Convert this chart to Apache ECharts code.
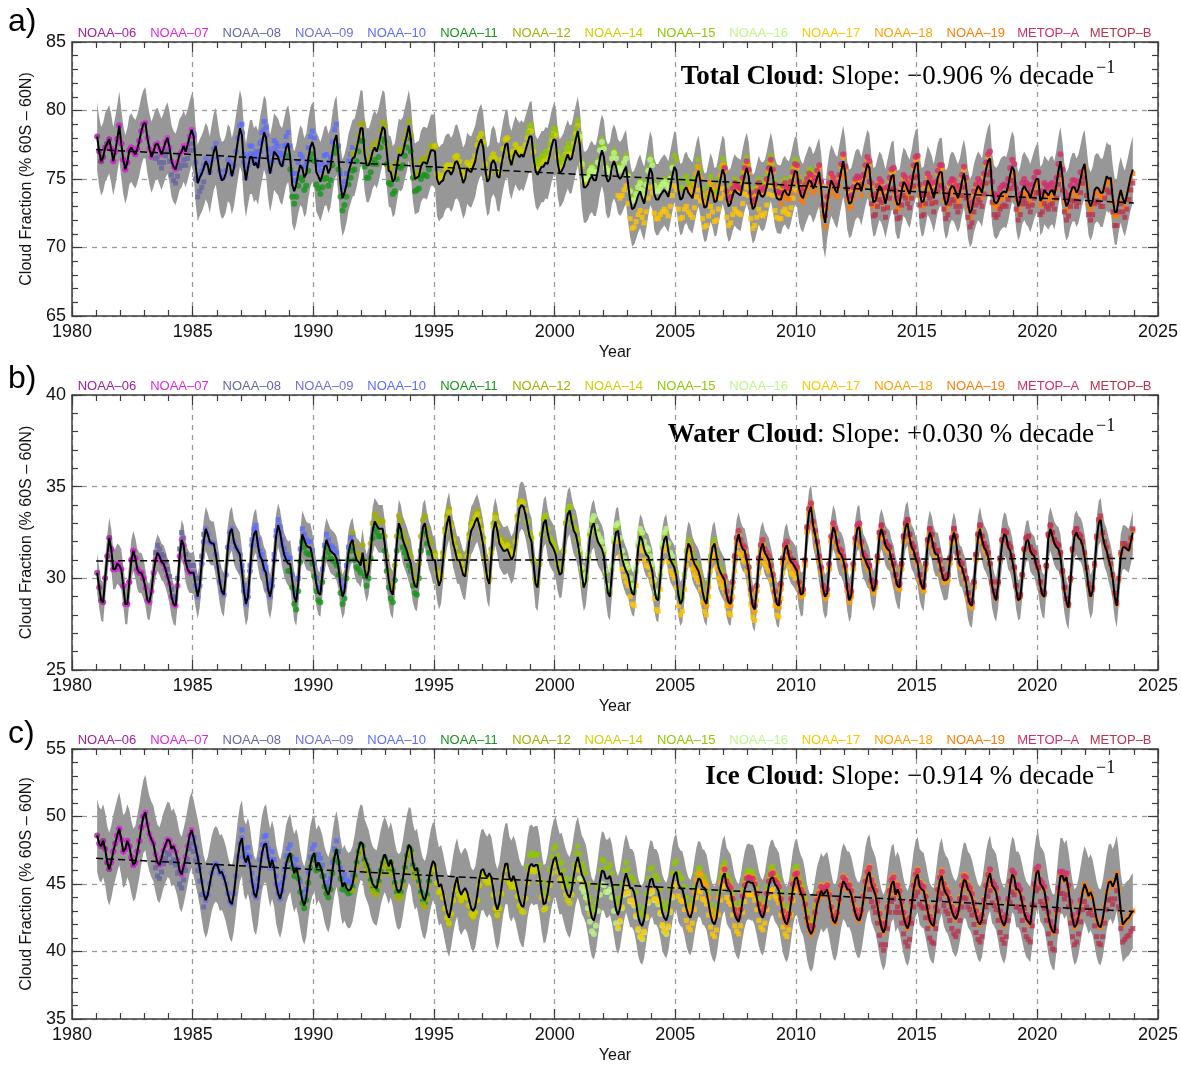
<!DOCTYPE html>
<html>
<head>
<meta charset="utf-8">
<title>Cloud Fraction 60S–60N</title>
<script src="https://cdn.jsdelivr.net/npm/echarts@6/dist/echarts.min.js"></script>
<style>
  html, body { margin: 0; padding: 0; background: #ffffff; }
  #chart { width: 1181px; height: 1065px; }
</style>
</head>
<body>
<div id="chart"></div>
<script>
// ---------------------------------------------------------------
// Data: monthly mean cloud fraction (% of 60S–60N), Jan 1981 – Dec 2023,
// one row per year (Jan … Dec).
// ---------------------------------------------------------------
const START_YEAR = 1981;

const totalCloud = [
  78.1, 77.0, 76.3, 76.6, 77.3, 77.6, 77.9, 77.2, 76.3, 77.0, 77.9, 78.9,
  77.6, 76.4, 75.7, 76.2, 77.1, 77.3, 77.0, 76.8, 77.2, 77.8, 78.5, 79.0,
  79.1, 78.0, 77.2, 76.6, 77.0, 77.5, 77.6, 77.2, 76.8, 77.2, 77.7, 78.0,
  77.3, 76.3, 75.9, 75.7, 76.2, 76.8, 77.0, 77.4, 77.0, 77.5, 78.1, 78.6,
  78.1, 76.0, 74.7, 75.1, 75.4, 75.8, 76.3, 76.0, 75.3, 76.2, 77.0, 77.4,
  76.4, 75.4, 74.9, 75.0, 75.4, 76.2, 76.0, 75.2, 75.8, 76.8, 77.8, 78.7,
  78.2, 76.0, 74.9, 75.8, 76.6, 76.6, 76.0, 76.2, 75.8, 76.8, 77.6, 78.4,
  78.0, 76.4, 75.4, 76.1, 77.0, 76.8, 76.6, 76.1, 75.9, 76.6, 77.3, 77.6,
  76.6, 74.6, 74.1, 74.6, 75.4, 76.0, 75.8, 75.1, 75.4, 76.5, 77.3, 77.7,
  77.2, 75.5, 75.2, 74.8, 75.3, 75.9, 76.0, 75.4, 75.8, 76.9, 77.8, 78.2,
  76.6, 74.6, 73.6, 74.0, 74.6, 75.5, 76.0, 76.5, 76.6, 77.2, 77.9, 78.7,
  78.7, 76.8, 76.0, 76.0, 76.4, 77.0, 77.3, 77.0, 77.5, 78.2, 78.8, 78.6,
  77.0, 75.6, 75.5, 74.8, 75.0, 75.9, 76.8, 76.7, 76.9, 77.6, 78.2, 78.9,
  77.9, 76.0, 75.0, 75.1, 75.2, 75.9, 76.2, 76.2, 76.1, 76.6, 77.1, 77.1,
  77.0, 75.0, 74.6, 74.8, 74.9, 75.4, 75.6, 75.6, 75.3, 75.6, 76.2, 76.3,
  75.9, 75.3, 74.7, 75.0, 75.8, 75.6, 75.5, 75.9, 76.3, 77.1, 77.6, 77.9,
  77.3, 75.7, 74.8, 75.0, 76.1, 76.4, 76.1, 75.2, 75.1, 76.0, 76.8, 77.5,
  77.6, 76.5, 76.0, 76.6, 77.1, 76.8, 76.6, 76.8, 76.6, 77.1, 77.6, 78.1,
  78.1, 76.6, 75.6, 75.3, 75.6, 75.9, 75.9, 76.2, 76.1, 76.7, 77.4, 77.9,
  77.8, 76.2, 75.4, 75.6, 75.9, 76.4, 76.8, 76.4, 76.5, 77.2, 77.9, 78.5,
  77.5, 75.5, 74.4, 74.4, 74.6, 75.0, 75.2, 74.9, 74.9, 75.6, 76.5, 77.1,
  76.6, 75.2, 74.8, 75.0, 75.9, 76.3, 75.9, 75.2, 75.0, 75.2, 75.6, 75.9,
  74.6, 73.5, 72.8, 72.9, 73.3, 73.8, 74.1, 73.6, 73.2, 74.0, 75.0, 75.8,
  75.4, 73.9, 73.5, 73.5, 73.8, 74.0, 74.2, 74.0, 73.7, 74.4, 75.2, 75.9,
  75.6, 74.2, 73.5, 73.6, 74.2, 74.4, 74.0, 73.8, 73.6, 74.3, 75.1, 75.6,
  74.8, 73.5, 72.9, 73.0, 73.7, 74.4, 74.0, 73.3, 73.4, 74.2, 75.0, 75.7,
  75.3, 73.6, 73.0, 73.2, 73.8, 74.2, 74.0, 73.9, 73.8, 74.6, 75.3, 75.8,
  75.2, 73.5, 72.8, 73.0, 73.6, 74.2, 73.8, 73.7, 73.9, 74.5, 75.3, 75.9,
  75.2, 74.1, 73.6, 73.5, 73.5, 74.0, 74.2, 73.9, 73.8, 74.3, 75.0, 75.6,
  75.5, 74.3, 73.8, 73.6, 74.1, 74.5, 74.9, 74.8, 74.3, 74.6, 75.1, 75.5,
  74.3, 72.6, 71.8, 73.2, 74.2, 74.9, 74.6, 74.2, 74.0, 74.8, 75.6, 76.3,
  75.4, 73.8, 73.2, 73.3, 73.9, 74.5, 74.7, 74.6, 74.1, 74.8, 75.5, 76.1,
  75.8, 74.2, 73.3, 73.4, 74.0, 74.5, 74.3, 73.8, 73.2, 73.9, 74.6, 75.2,
  75.3, 73.6, 73.1, 73.2, 74.1, 74.8, 74.6, 74.2, 73.9, 74.6, 75.5, 76.1,
  76.2, 74.1, 73.3, 73.4, 74.2, 74.9, 74.6, 74.2, 73.6, 74.3, 75.1, 75.5,
  75.5, 73.8, 73.1, 73.4, 74.2, 74.5, 74.4, 74.0, 73.6, 74.0, 74.8, 75.4,
  74.6, 73.2, 72.5, 72.8, 73.6, 74.1, 74.5, 74.3, 74.0, 74.9, 75.7, 76.3,
  76.5, 74.3, 73.4, 73.2, 73.4, 73.8, 74.0, 74.1, 74.0, 74.5, 75.3, 75.9,
  75.6, 73.8, 73.0, 73.4, 74.2, 74.5, 74.2, 74.0, 73.6, 74.1, 74.6, 75.0,
  75.0, 73.4, 73.6, 74.2, 74.0, 73.8, 74.1, 74.2, 73.8, 74.6, 75.6, 76.3,
  75.2, 73.6, 73.0, 73.3, 74.0, 74.4, 74.4, 74.0, 74.3, 75.0, 75.7, 76.1,
  74.8, 73.4, 73.0, 73.4, 74.2, 74.4, 74.3, 74.0, 74.0, 74.6, 75.2, 75.0,
  75.1, 73.6, 72.6, 72.6, 73.6, 74.2, 73.6, 73.2, 73.8, 74.5, 75.2, 75.7
];

const waterCloud = [
  30.3, 29.5, 28.8, 28.7, 30.0, 31.2, 32.2, 31.6, 30.5, 30.5, 30.8, 30.7,
  30.5, 29.6, 28.6, 28.6, 29.8, 31.0, 31.5, 31.1, 30.5, 30.3, 30.3, 30.0,
  29.5, 28.8, 28.7, 29.3, 30.3, 31.0, 31.4, 31.2, 30.9, 30.8, 30.5, 30.1,
  29.7, 29.0, 28.6, 28.5, 29.6, 31.2, 32.1, 31.8, 30.9, 30.5, 30.3, 30.3,
  30.3, 29.6, 29.0, 29.6, 30.8, 32.0, 32.7, 32.4, 32.0, 31.9, 31.9, 31.3,
  30.6, 29.8, 29.3, 29.1, 30.2, 31.7, 32.5, 32.7, 32.0, 31.7, 31.5, 31.3,
  30.4, 29.3, 28.6, 29.0, 30.4, 31.8, 32.4, 32.6, 31.8, 31.2, 31.0, 30.5,
  30.3, 29.4, 29.0, 29.6, 31.0, 32.3, 32.9, 32.5, 31.8, 31.3, 31.0, 30.8,
  30.8, 29.9, 29.0, 28.7, 29.7, 31.3, 32.4, 32.1, 31.8, 31.7, 31.7, 31.2,
  30.5, 29.7, 29.2, 29.1, 30.2, 31.5, 32.1, 31.8, 31.5, 31.4, 31.3, 31.1,
  30.6, 29.6, 29.0, 29.3, 30.4, 31.4, 31.9, 32.1, 31.4, 31.0, 30.9, 30.7,
  31.4, 30.5, 30.0, 30.4, 31.5, 32.6, 33.1, 32.9, 32.7, 32.7, 32.7, 31.9,
  30.8, 29.9, 29.3, 29.1, 30.3, 31.9, 33.0, 32.7, 32.1, 31.8, 31.5, 31.1,
  30.8, 30.0, 29.6, 29.5, 30.4, 31.9, 32.8, 33.0, 32.3, 31.8, 31.5, 31.0,
  31.0, 30.1, 29.6, 29.9, 31.0, 32.3, 33.0, 33.4, 32.6, 31.9, 31.5, 31.0,
  31.0, 30.6, 30.2, 30.1, 31.0, 32.0, 32.6, 32.8, 33.1, 33.3, 32.9, 32.4,
  31.8, 30.8, 30.0, 29.7, 31.2, 32.6, 33.1, 32.6, 31.9, 31.7, 31.5, 31.5,
  31.6, 31.3, 31.0, 31.2, 31.8, 33.0, 33.8, 34.0, 33.9, 33.5, 32.9, 32.3,
  32.0, 30.8, 29.7, 29.5, 30.6, 32.2, 33.0, 33.2, 32.5, 32.0, 31.8, 31.6,
  31.3, 30.6, 30.2, 30.3, 31.3, 32.8, 33.5, 33.7, 33.1, 32.6, 32.4, 31.9,
  31.2, 30.2, 29.5, 29.8, 30.9, 32.2, 32.8, 33.0, 32.4, 32.0, 31.8, 31.6,
  31.2, 30.0, 29.2, 29.0, 30.3, 31.8, 32.5, 32.6, 31.8, 31.1, 30.7, 30.4,
  30.2, 29.6, 29.2, 29.1, 30.2, 31.6, 32.3, 32.1, 31.6, 31.3, 31.2, 30.8,
  30.4, 29.5, 28.9, 28.8, 30.0, 31.5, 32.1, 32.3, 31.5, 31.0, 30.8, 30.6,
  30.1, 29.1, 28.6, 28.8, 30.0, 31.3, 31.9, 31.7, 31.1, 30.8, 30.6, 30.4,
  30.0, 29.3, 28.8, 28.6, 29.6, 31.0, 31.7, 31.9, 31.2, 30.6, 30.3, 30.1,
  29.9, 29.1, 28.7, 28.6, 29.6, 31.0, 32.0, 32.4, 31.9, 31.6, 31.5, 31.0,
  30.4, 29.2, 28.5, 28.3, 29.4, 30.9, 31.6, 31.9, 31.4, 31.2, 31.0, 30.5,
  30.0, 29.1, 28.6, 28.5, 29.5, 30.9, 31.6, 31.8, 31.2, 30.9, 30.8, 30.6,
  30.4, 29.6, 29.1, 29.2, 30.8, 32.6, 33.6, 33.9, 32.9, 32.4, 31.8, 31.0,
  30.4, 29.4, 29.0, 29.2, 30.6, 32.1, 32.8, 32.5, 31.8, 31.4, 31.3, 31.0,
  30.5, 29.4, 28.8, 29.1, 30.6, 32.0, 32.7, 32.8, 31.8, 31.2, 31.0, 30.7,
  30.5, 29.7, 29.3, 29.6, 31.0, 32.3, 32.7, 32.3, 31.8, 31.6, 31.5, 31.0,
  30.6, 30.0, 29.6, 29.5, 30.6, 32.1, 32.8, 33.0, 32.2, 31.7, 31.5, 31.1,
  30.8, 30.0, 29.6, 29.4, 30.6, 31.9, 32.5, 32.2, 31.6, 31.3, 31.3, 30.8,
  30.3, 29.9, 29.9, 30.0, 30.9, 32.0, 32.5, 32.1, 31.2, 30.7, 30.6, 30.2,
  29.8, 29.0, 28.6, 28.5, 29.6, 31.1, 32.2, 32.7, 32.1, 31.7, 31.5, 31.2,
  30.6, 29.6, 29.1, 28.8, 29.6, 30.9, 31.9, 32.4, 32.3, 31.7, 31.5, 31.0,
  30.4, 29.4, 28.8, 28.9, 30.0, 31.4, 32.0, 32.1, 31.5, 31.3, 31.2, 30.7,
  30.4, 29.6, 29.1, 29.0, 30.5, 32.2, 32.7, 32.3, 31.9, 31.7, 31.6, 31.2,
  30.2, 29.3, 28.7, 28.4, 29.8, 31.4, 32.3, 32.5, 32.2, 32.1, 31.8, 31.2,
  30.4, 29.5, 29.0, 29.3, 30.6, 32.1, 33.0, 33.2, 32.3, 31.8, 31.5, 31.0,
  30.6, 30.0, 29.0, 28.5, 29.8, 31.2, 31.7, 31.7, 31.6, 31.5, 32.0, 32.5
];

const iceCloud = [
  48.6, 48.0, 47.8, 48.2, 47.6, 46.6, 46.1, 46.6, 47.4, 48.0, 48.6, 49.1,
  48.3, 47.4, 47.6, 48.2, 47.8, 47.0, 46.4, 46.6, 47.4, 48.2, 49.2, 50.0,
  50.3, 49.4, 48.7, 48.3, 48.0, 47.2, 46.6, 46.4, 46.9, 47.5, 47.9, 48.3,
  48.2, 47.6, 47.8, 47.4, 46.8, 46.0, 45.7, 46.3, 47.0, 47.8, 48.6, 49.0,
  48.4, 47.7, 47.0, 46.2, 45.2, 44.3, 43.8, 44.2, 45.0, 45.8, 46.3, 46.5,
  46.3, 45.8, 45.9, 45.5, 45.0, 44.3, 43.7, 43.5, 44.3, 45.6, 47.0, 48.0,
  48.4, 47.0, 46.6, 47.1, 46.4, 45.2, 44.3, 44.0, 44.8, 46.2, 47.3, 47.9,
  48.0, 47.0, 46.2, 46.8, 46.2, 45.0, 44.3, 43.9, 44.5, 45.5, 46.5, 47.0,
  47.3, 46.4, 45.8, 46.2, 45.6, 44.6, 43.8, 43.4, 44.0, 45.3, 46.4, 47.0,
  47.3, 46.2, 46.6, 46.3, 45.8, 45.0, 44.5, 44.2, 44.8, 46.0, 47.0, 47.6,
  46.8, 45.6, 44.8, 45.1, 44.7, 44.5, 44.6, 45.0, 45.8, 46.8, 47.6, 48.1,
  48.0, 47.0, 46.6, 46.2, 45.5, 45.0, 44.8, 44.7, 45.4, 46.2, 46.8, 47.2,
  46.8, 46.3, 46.8, 46.2, 45.3, 44.6, 44.4, 44.6, 45.4, 46.4, 47.3, 47.9,
  47.7, 46.6, 46.0, 46.2, 45.4, 44.6, 44.0, 43.8, 44.4, 45.4, 46.2, 46.7,
  46.5, 45.5, 44.8, 45.0, 44.4, 43.6, 42.9, 42.5, 43.2, 44.2, 45.0, 45.5,
  44.6, 44.2, 44.5, 44.7, 44.4, 43.8, 43.2, 43.0, 43.3, 44.2, 45.3, 46.0,
  46.1, 45.7, 45.5, 45.8, 45.5, 44.6, 43.6, 43.1, 43.6, 44.7, 45.8, 46.5,
  46.5, 45.5, 45.2, 45.6, 45.2, 44.5, 43.8, 43.4, 43.3, 44.3, 45.5, 46.3,
  46.5, 46.3, 46.4, 46.4, 45.6, 44.4, 43.5, 43.6, 44.3, 45.3, 46.2, 46.8,
  47.0, 46.3, 45.7, 45.8, 45.2, 44.6, 44.2, 44.0, 44.6, 45.6, 46.5, 47.0,
  46.4, 45.7, 45.4, 45.0, 44.2, 43.2, 42.5, 42.3, 42.9, 44.0, 45.2, 46.0,
  45.9, 45.4, 45.4, 45.6, 45.0, 44.0, 43.1, 42.7, 43.2, 44.2, 45.2, 45.8,
  45.3, 44.7, 44.7, 44.4, 43.6, 42.6, 42.1, 41.9, 42.4, 43.5, 44.6, 45.3,
  45.4, 44.8, 44.8, 44.5, 43.8, 42.9, 42.5, 42.3, 42.8, 43.9, 45.0, 45.7,
  45.9, 45.0, 44.7, 44.6, 44.0, 43.2, 42.7, 42.5, 43.0, 44.0, 44.9, 45.4,
  45.3, 44.8, 44.7, 44.4, 43.6, 42.7, 42.2, 42.0, 42.5, 43.6, 44.7, 45.5,
  45.8, 44.9, 44.6, 44.4, 43.6, 42.8, 42.4, 42.2, 42.8, 43.8, 44.6, 45.1,
  45.2, 45.1, 45.1, 44.7, 44.0, 43.2, 42.7, 42.5, 43.0, 44.0, 44.9, 45.4,
  45.5, 45.0, 44.8, 44.5, 43.6, 42.7, 42.2, 42.0, 42.5, 43.6, 44.7, 45.4,
  45.5, 44.8, 44.3, 44.0, 43.2, 42.2, 41.6, 41.3, 41.6, 42.6, 43.5, 44.0,
  44.5, 44.2, 44.4, 44.6, 43.9, 43.0, 42.3, 42.1, 42.6, 43.6, 44.6, 45.2,
  45.0, 44.6, 44.6, 44.2, 43.5, 42.8, 42.4, 42.3, 42.8, 43.8, 44.9, 45.6,
  45.9, 45.0, 44.6, 44.2, 43.4, 42.5, 41.8, 41.4, 41.8, 43.0, 44.2, 45.0,
  45.2, 44.2, 44.6, 44.2, 43.4, 42.6, 42.0, 41.7, 42.2, 43.4, 44.6, 45.4,
  45.7, 44.8, 44.6, 44.5, 43.8, 43.0, 42.3, 42.0, 41.9, 43.0, 44.3, 45.2,
  45.6, 44.7, 44.3, 44.1, 43.6, 43.0, 42.6, 42.4, 42.8, 43.6, 44.6, 45.3,
  45.2, 44.6, 44.4, 44.0, 43.3, 42.7, 42.2, 42.0, 42.4, 43.5, 44.6, 45.4,
  45.8, 44.9, 44.7, 44.4, 43.6, 42.7, 42.2, 41.9, 42.4, 43.6, 44.9, 45.7,
  45.5, 44.6, 44.6, 44.3, 43.6, 42.9, 42.4, 42.2, 42.0, 43.2, 44.7, 45.8,
  46.0, 45.0, 44.8, 44.5, 43.6, 42.6, 41.9, 41.5, 41.4, 42.8, 44.4, 45.6,
  45.6, 45.2, 45.5, 44.6, 43.4, 42.4, 41.8, 42.0, 42.6, 43.5, 44.4, 45.0,
  44.6, 44.1, 44.4, 44.0, 43.2, 42.4, 41.9, 41.8, 42.4, 43.4, 44.4, 45.1,
  45.2, 44.8, 45.2, 45.8, 44.6, 43.0, 42.0, 42.2, 42.4, 42.5, 42.8, 43.0
];

// Half-width of the grey spread band, one value per year (1981 … 2023)
const totalSpread = [
  2.5, 2.5, 2.6, 2.6, 2.8, 2.8, 2.7, 2.8, 2.9, 2.9, 2.8, 2.7, 2.6, 2.6, 2.7,
  2.6, 2.5, 2.5, 2.6, 2.5, 2.6, 2.7, 2.7, 2.6, 2.6, 2.5, 2.6, 2.5, 2.5, 2.5,
  2.6, 2.5, 2.5, 2.5, 2.5, 2.5, 2.5, 2.6, 2.5, 2.5, 2.5, 2.5, 2.4
];
const waterSpread = [
  1.1, 1.1, 1.0, 1.1, 1.2, 1.2, 1.2, 1.2, 1.3, 1.2, 1.2, 1.3, 1.3, 1.3, 1.3,
  1.3, 1.3, 1.3, 1.3, 1.3, 1.3, 1.3, 1.2, 1.2, 1.2, 1.2, 1.2, 1.2, 1.2, 1.2,
  1.2, 1.2, 1.1, 1.2, 1.2, 1.1, 1.2, 1.2, 1.1, 1.2, 1.2, 1.2, 1.2
];
const iceSpread = [
  2.7, 2.7, 2.8, 2.8, 2.8, 2.8, 2.8, 2.9, 2.9, 2.8, 2.8, 2.8, 2.8, 2.9, 2.9,
  3.0, 3.0, 3.0, 2.9, 3.0, 2.9, 2.9, 2.9, 2.8, 2.8, 2.8, 2.8, 2.8, 2.8, 2.8,
  2.8, 2.8, 2.8, 2.8, 2.8, 2.8, 2.8, 2.8, 2.8, 2.8, 2.8, 2.8, 2.8
];

// Satellites: name, operating window (decimal year) and per-panel bias vs. the composite
const satNames  = ['NOAA–06', 'NOAA–07', 'NOAA–08', 'NOAA–09', 'NOAA–10', 'NOAA–11', 'NOAA–12',
                   'NOAA–14', 'NOAA–15', 'NOAA–16', 'NOAA–17', 'NOAA–18', 'NOAA–19', 'METOP–A', 'METOP–B'];
const satStart  = [1981.0, 1981.6, 1983.4, 1985.0, 1987.0, 1988.9, 1991.6,
                   1995.0, 1998.8, 2001.0, 2002.6, 2005.5, 2009.3, 2007.0, 2013.0];
const satEnd    = [1983.0, 1985.1, 1985.5, 1988.9, 1991.7, 1994.8, 1998.6,
                   2001.5, 2010.9, 2004.9, 2010.0, 2018.0, 2024.0, 2021.8, 2024.0];
const totalBias = [0.0, 0.0, -1.0, 0.2, 0.8, -0.9, 0.3, 0.4, 0.8, 0.6, -1.4, 0.3, -0.3, 0.5, -1.0];
const waterBias = [0.0, 0.0, 0.4, 0.0, 0.3, -0.4, 0.4, 0.2, 0.2, 0.4, -0.6, -0.1, 0.1, 0.2, 0.2];
const iceBias   = [0.0, 0.0, -1.0, 0.0, 0.6, -0.2, -0.5, -0.4, 0.8, -1.0, -0.9, 0.4, 0.0, 0.3, -1.3];

// Linear trends as stated in each panel (% per decade) and the fitted value at 1981.0
const trendSlope = [-0.906, 0.030, -0.914];
const trendStart = [77.15, 30.95, 46.90];
const trendEndYear = 2024.0;

const xTicks = [1980, 2025, 5];       // min, max, step
const yRanges = [[65, 85], [25, 40], [35, 55]];
const panelNames = ['Total Cloud', 'Water Cloud', 'Ice Cloud'];
const panelLetters = ['a)', 'b)', 'c)'];

// ---------------------------------------------------------------
// Styling / layout
// ---------------------------------------------------------------
const satColors  = ['#a3209f', '#dc28dc', '#6567a3', '#6d70e4', '#5b6cff', '#17951a', '#a2b200',
                    '#cfcf00', '#8fc800', '#bdf78a', '#ffc600', '#ffa000', '#ff7b00', '#d42d6b', '#b9344f'];
const satSymbols = ['circle', 'circle', 'rect', 'circle', 'rect', 'circle', 'circle',
                    'circle', 'rect', 'circle', 'rect', 'circle', 'rect', 'circle', 'rect'];

const layout = [
  { top: 42,  height: 274, letterY: 22,  legendY: 33,  titleY: 77 },
  { top: 395, height: 275, letterY: 379, legendY: 386, titleY: 435 },
  { top: 749, height: 275, letterY: 734, legendY: 740, titleY: 777 }
];
const GRID_LEFT = 72, GRID_RIGHT = 22;
const TITLE_RIGHT = 1094;
const AXIS_COLOR = '#3c3c3c';
const SANS = "'Liberation Sans', Arial, sans-serif";
const TICK_FONT = "'Liberation Sans Narrow', 'Liberation Sans', Arial, sans-serif";
const SERIF = "'Liberation Serif', 'Times New Roman', serif";
const seriesByPanel = [totalCloud, waterCloud, iceCloud];
const spreadByPanel = [totalSpread, waterSpread, iceSpread];
const biasByPanel = [totalBias, waterBias, iceBias];

const monthX = i => START_YEAR + (i + 0.5) / 12;

const grids = [], xAxes = [], yAxes = [], series = [], graphics = [];

layout.forEach((L, p) => {
  grids.push({ left: GRID_LEFT, right: GRID_RIGHT, top: L.top, height: L.height });

  const tickStyle = { color: AXIS_COLOR, width: 1.2 };
  const baseX = {
    gridIndex: p, type: 'value', min: xTicks[0], max: xTicks[1], interval: xTicks[2],
    axisLine: { show: true, onZero: false, lineStyle: { color: AXIS_COLOR, width: 1.5 } },
    axisTick: { show: true, inside: true, length: 10, lineStyle: tickStyle },
    minorTick: { show: true, splitNumber: 5, length: 6, lineStyle: tickStyle }
  };
  xAxes.push(Object.assign({}, baseX, {
    position: 'bottom',
    splitLine: { show: true, lineStyle: { type: [5, 5], color: '#9a9a9a', width: 1.3 } },
    axisLabel: { fontSize: 18, color: '#111', margin: 7, fontFamily: TICK_FONT,
                 formatter: v => String(v) },
    name: 'Year', nameLocation: 'middle', nameGap: 29,
    nameTextStyle: { fontSize: 16, color: '#111', fontFamily: SANS }
  }));
  xAxes.push(Object.assign({}, baseX, {
    position: 'top', axisLabel: { show: false }, splitLine: { show: false }
  }));

  const baseY = {
    gridIndex: p, type: 'value', min: yRanges[p][0], max: yRanges[p][1], interval: 5,
    axisLine: { show: true, onZero: false, lineStyle: { color: AXIS_COLOR, width: 1.5 } },
    axisTick: { show: true, inside: true, length: 10, lineStyle: tickStyle },
    minorTick: { show: true, splitNumber: 5, length: 6, lineStyle: tickStyle }
  };
  yAxes.push(Object.assign({}, baseY, {
    position: 'left',
    splitLine: { show: true, lineStyle: { type: [5, 5], color: '#9a9a9a', width: 1.3 } },
    axisLabel: { fontSize: 18, color: '#111', margin: 6, fontFamily: TICK_FONT,
                 formatter: v => String(v) },
    name: 'Cloud Fraction (% 60S – 60N)', nameLocation: 'middle', nameGap: 33, nameRotate: 90,
    nameTextStyle: { fontSize: 16, color: '#111', fontFamily: SANS }
  }));
  yAxes.push(Object.assign({}, baseY, {
    position: 'right', axisLabel: { show: false }, splitLine: { show: false }
  }));

  const xi = p * 2, yi = p * 2;
  const values = seriesByPanel[p];
  const spread = spreadByPanel[p];

  // grey spread band
  series.push({
    type: 'custom', xAxisIndex: xi, yAxisIndex: yi, silent: true, z: 1,
    data: [[START_YEAR, yRanges[p][0]]],
    renderItem: (params, api) => {
      const upper = [], lower = [];
      values.forEach((v, i) => {
        const s = spread[Math.floor(i / 12)];
        upper.push(api.coord([monthX(i), v + s]));
        lower.push(api.coord([monthX(i), v - s]));
      });
      return { type: 'polygon', shape: { points: upper.concat(lower.reverse()) },
               style: { fill: '#979797' } };
    }
  });

  // individual satellite records
  satNames.forEach((name, s) => {
    const pts = [];
    values.forEach((v, i) => {
      const x = monthX(i);
      if (x >= satStart[s] && x <= satEnd[s]) pts.push([x, +(v + biasByPanel[p][s]).toFixed(2)]);
    });
    series.push({
      type: 'scatter', name, xAxisIndex: xi, yAxisIndex: yi, z: 3, silent: true,
      symbol: satSymbols[s], symbolSize: satSymbols[s] === 'rect' ? 5 : 6,
      itemStyle: { color: satColors[s] },
      data: pts
    });
  });

  // composite monthly mean
  series.push({
    type: 'line', xAxisIndex: xi, yAxisIndex: yi, z: 5, silent: true,
    showSymbol: false, symbol: 'none',
    lineStyle: { color: '#000', width: 2 },
    data: values.map((v, i) => [monthX(i), v])
  });

  // linear trend
  const t0 = trendStart[p];
  const t1 = t0 + trendSlope[p] / 10 * (trendEndYear - START_YEAR);
  series.push({
    type: 'line', xAxisIndex: xi, yAxisIndex: yi, z: 6, silent: true,
    showSymbol: false, symbol: 'none',
    lineStyle: { color: '#000', width: 1.5, type: [7, 4] },
    data: [[START_YEAR, t0], [trendEndYear, t1]]
  });

  // panel letter
  graphics.push({ type: 'text', x: 8, y: L.letterY,
    style: { text: panelLetters[p], fontSize: 32, fontFamily: SANS, fill: '#000', verticalAlign: 'middle' } });

  // satellite name row
  satNames.forEach((name, s) => {
    graphics.push({ type: 'text', x: 107 + s * 72.4, y: L.legendY,
      style: { text: name, fontSize: 13, fontFamily: SANS, fill: satColors[s],
               align: 'center', verticalAlign: 'middle' } });
  });

  // trend annotation
  const slope = trendSlope[p];
  const slopeStr = (slope < 0 ? '−' : '+') + Math.abs(slope).toFixed(3);
  graphics.push({ type: 'text', x: TITLE_RIGHT, y: L.titleY,
    style: {
      text: '{b|' + panelNames[p] + '}: Slope: ' + slopeStr + ' % decade',
      fontSize: 27, fontFamily: SERIF, fill: '#000', align: 'right', verticalAlign: 'middle',
      rich: { b: { fontSize: 27, fontFamily: SERIF, fontWeight: 'bold', fill: '#000' } }
    } });
  graphics.push({ type: 'text', x: TITLE_RIGHT + 2, y: L.titleY - 9,
    style: { text: '−1', fontSize: 18, fontFamily: SERIF, fill: '#000',
             align: 'left', verticalAlign: 'middle' } });
});

const chart = echarts.init(document.getElementById('chart'), null, { renderer: 'canvas' });
chart.setOption({
  animation: false,
  backgroundColor: '#ffffff',
  grid: grids,
  xAxis: xAxes,
  yAxis: yAxes,
  series: series,
  graphic: graphics
});
</script>
</body>
</html>
